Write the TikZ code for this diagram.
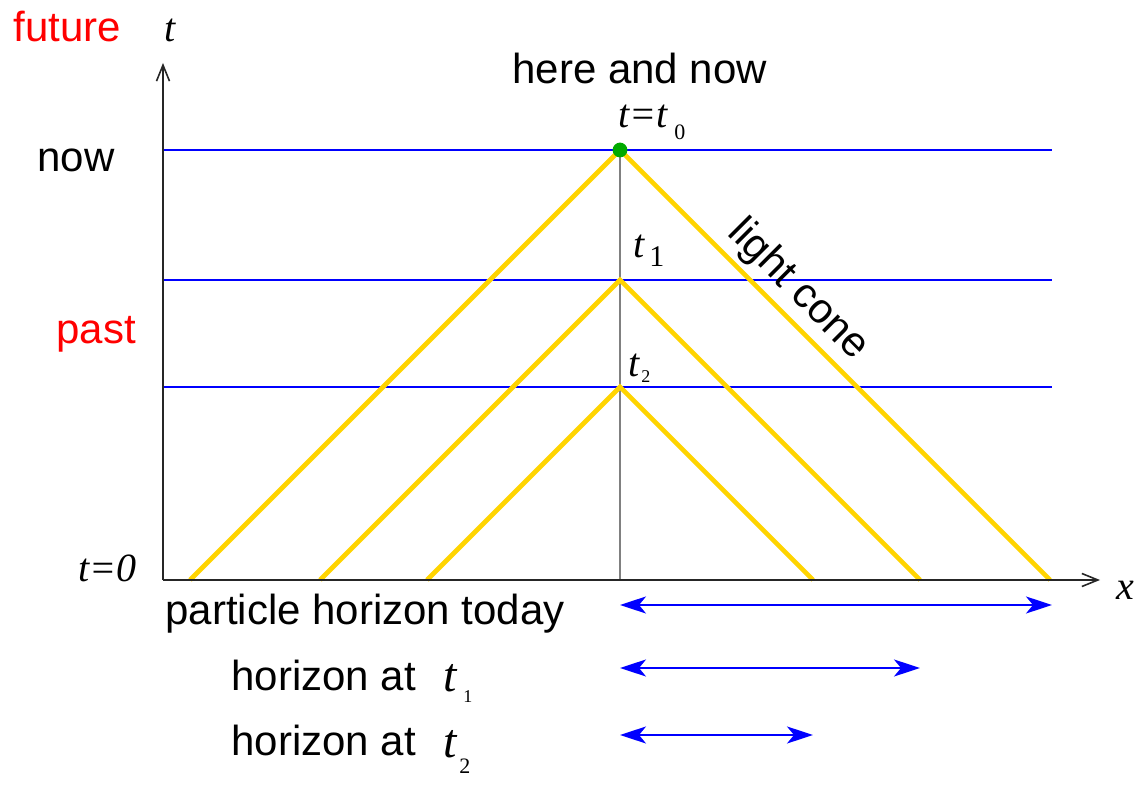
\documentclass[tikz,border=0pt]{standalone}
\usepackage{fontspec}
\setmainfont{Liberation Serif}
\newfontfamily\arialf{Liberation Sans}
\usetikzlibrary{arrows.meta}
\definecolor{conecol}{RGB}{255,212,0}
\definecolor{dotgreen}{RGB}{0,170,0}
\begin{document}
\begin{tikzpicture}[x=0.5pt,y=-0.5pt,
  sanslbl/.style={font=\arialf\fontsize{21}{25}\selectfont, inner sep=0pt, anchor=base west},
  itlbl/.style={font=\itshape\fontsize{20}{24}\selectfont, inner sep=0pt, anchor=base west},
  bigit/.style={font=\itshape\fontsize{24}{28}\selectfont, inner sep=0pt, anchor=base west},
  sublbl/.style={font=\fontsize{#1}{#1}\selectfont, inner sep=0pt, anchor=base west},
  axisline/.style={line width=0.8pt, black!85, -{Straight Barb[length=8pt,width=6.5pt]}},
  gridline/.style={blue, line width=0.7pt},
  coneline/.style={conecol, line width=2.3pt, line join=miter},
  horarrow/.style={blue, line width=1pt, {Stealth[length=13pt,width=8.5pt,inset=3.5pt]}-{Stealth[length=13pt,width=8.5pt,inset=3.5pt]}}
]
\useasboundingbox (0,0) rectangle (1141,785);
% coordinates
\coordinate (O) at (163,580);
\coordinate (tEnd) at (163,63);
\coordinate (xEnd) at (1100,580);
\coordinate (A0) at (620,150);
\coordinate (A1) at (620,280);
\coordinate (A2) at (620,387);
\coordinate (B) at (620,580);
\coordinate (L0) at (163,150); \coordinate (R0) at (1052,150);
\coordinate (L1) at (163,280); \coordinate (R1) at (1052,280);
\coordinate (L2) at (163,387); \coordinate (R2) at (1052,387);
\coordinate (c0l) at (190,580); \coordinate (c0r) at (1050,580);
\coordinate (c1l) at (320,580); \coordinate (c1r) at (920,580);
\coordinate (c2l) at (427,580); \coordinate (c2r) at (813,580);
\coordinate (h0a) at (620,605); \coordinate (h0b) at (1052,605);
\coordinate (h1a) at (620,668); \coordinate (h1b) at (920,668);
\coordinate (h2a) at (620,735); \coordinate (h2b) at (813,735);
% grid lines
\draw[gridline] (L0) -- (R0);
\draw[gridline] (L1) -- (R1);
\draw[gridline] (L2) -- (R2);
% vertical line
\draw[gray, line width=0.8pt] (A0) -- (B);
% cones
\draw[coneline] (c0l) -- (A0) -- (c0r);
\draw[coneline] (c1l) -- (A1) -- (c1r);
\draw[coneline] (c2l) -- (A2) -- (c2r);
% axes
\draw[axisline] (O) -- (tEnd);
\draw[axisline] (O) -- (xEnd);
% dot
\fill[dotgreen] (A0) circle[radius=3.7pt];
% horizon arrows
\draw[horarrow] (h0a) -- (h0b);
\draw[horarrow] (h1a) -- (h1b);
\draw[horarrow] (h2a) -- (h2b);
% labels
\node[sanslbl, red] (future) at (13,42) {future};
\node[itlbl] (tax) at (164,42) {t};
\node[sanslbl] (now) at (37,172) {now};
\node[sanslbl, red] (past) at (56,344) {past};
\node[sanslbl] (here) at (512,84) {here and now};
\node[itlbl] (tt0) at (618,128) {t=t};
\node[sublbl=11] (s0) at (674,140) {0};
\node[itlbl] (tt1) at (633,258) {t};
\node[sublbl=15] (s1) at (649,267) {1};
\node[itlbl] (tt2) at (628,377) {t};
\node[sublbl=9] (s2) at (641,383) {2};
\node[itlbl] (tzero) at (78,582) {t=0};
\node[itlbl] (xlab) at (1116,600) {x};
\node[sanslbl, anchor=center, rotate=-45] (cone) at (798,290) {light cone};
\node[sanslbl] (ph) at (165,625) {particle horizon today};
\node[sanslbl] (hz1) at (231,690) {horizon at};
\node[bigit] (ht1) at (443,692) {t};
\node[sublbl=9] (hs1) at (463,703) {1};
\node[sanslbl] (hz2) at (231,755) {horizon at};
\node[bigit] (ht2) at (443,757) {t};
\node[sublbl=11] (hs2) at (459,773) {2};
\end{tikzpicture}
\end{document}
